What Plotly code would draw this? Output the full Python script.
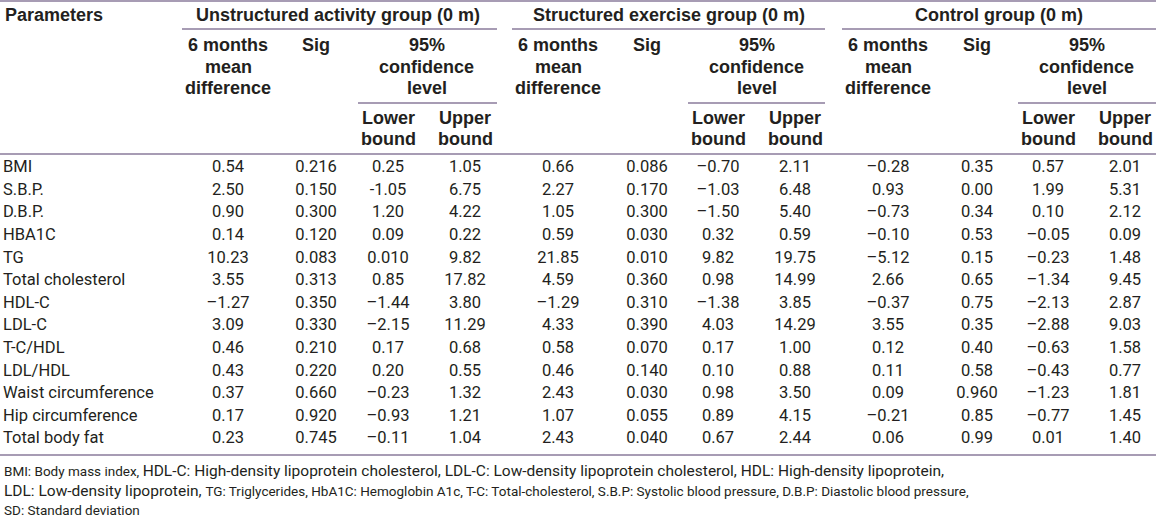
import plotly.graph_objects as go

# ---------------- data ----------------
parameters = ["BMI", "S.B.P.", "D.B.P.", "HBA1C", "TG", "Total cholesterol", "HDL-C",
              "LDL-C", "T-C/HDL", "LDL/HDL", "Waist circumference", "Hip circumference",
              "Total body fat"]

groups = ["Unstructured activity group (0 m)", "Structured exercise group (0 m)", "Control group (0 m)"]

unstruct_mean = ["0.54", "2.50", "0.90", "0.14", "10.23", "3.55", "–1.27", "3.09", "0.46", "0.43", "0.37", "0.17", "0.23"]
unstruct_sig = ["0.216", "0.150", "0.300", "0.120", "0.083", "0.313", "0.350", "0.330", "0.210", "0.220", "0.660", "0.920", "0.745"]
unstruct_low = ["0.25", "-1.05", "1.20", "0.09", "0.010", "0.85", "–1.44", "–2.15", "0.17", "0.20", "–0.23", "–0.93", "–0.11"]
unstruct_up = ["1.05", "6.75", "4.22", "0.22", "9.82", "17.82", "3.80", "11.29", "0.68", "0.55", "1.32", "1.21", "1.04"]

struct_mean = ["0.66", "2.27", "1.05", "0.59", "21.85", "4.59", "–1.29", "4.33", "0.58", "0.46", "2.43", "1.07", "2.43"]
struct_sig = ["0.086", "0.170", "0.300", "0.030", "0.010", "0.360", "0.310", "0.390", "0.070", "0.140", "0.030", "0.055", "0.040"]
struct_low = ["–0.70", "–1.03", "–1.50", "0.32", "9.82", "0.98", "–1.38", "4.03", "0.17", "0.10", "0.98", "0.89", "0.67"]
struct_up = ["2.11", "6.48", "5.40", "0.59", "19.75", "14.99", "3.85", "14.29", "1.00", "0.88", "3.50", "4.15", "2.44"]

control_mean = ["–0.28", "0.93", "–0.73", "–0.10", "–5.12", "2.66", "–0.37", "3.55", "0.12", "0.11", "0.09", "–0.21", "0.06"]
control_sig = ["0.35", "0.00", "0.34", "0.53", "0.15", "0.65", "0.75", "0.35", "0.40", "0.58", "0.960", "0.85", "0.99"]
control_low = ["0.57", "1.99", "0.10", "–0.05", "–0.23", "–1.34", "–2.13", "–2.88", "–0.63", "–0.43", "–1.23", "–0.77", "0.01"]
control_up = ["2.01", "5.31", "2.12", "0.09", "1.48", "9.45", "2.87", "9.03", "1.58", "0.77", "1.81", "1.45", "1.40"]

footer_lines = [
    "<span style='font-size:13.5px'>BMI: Body mass index, </span>HDL-C: High-density lipoprotein cholesterol, LDL-C: Low-density lipoprotein cholesterol, HDL: High-density lipoprotein,",
    "LDL: Low-density lipoprotein, <span style='font-size:13.5px'>TG: Triglycerides, HbA1C: Hemoglobin A1c, T-C: Total-cholesterol, S.B.P: Systolic blood pressure, D.B.P: Diastolic blood pressure,</span>",
    "<span style='font-size:13.5px'>SD: Standard deviation</span>",
]

# ---------------- layout constants ----------------
W, H = 1156, 524
TXT = "#231f20"
LINE = "#8a7b9b"
BODY_FONT = "Roboto"
HEAD_FONT = "Liberation Sans"
ROW0, ROW_STEP = 168, 22.6

col_x = {
    "u": [228, 316, 388, 465],
    "s": [558, 647, 718, 795],
    "c": [888, 977, 1048, 1125],
}
group_center = [338, 669, 999]
group_line = [(182, 497), (512, 825), (842, 1156)]
ci_line = [(358, 497), (688, 825), (1018, 1156)]

fig = go.Figure()

row_y = [ROW0 + i * ROW_STEP for i in range(len(parameters))]

# parameter names
fig.add_trace(go.Scatter(x=[3] * len(parameters), y=row_y, text=parameters, mode="text",
                         textposition="middle right",
                         textfont=dict(family=BODY_FONT, size=16.5, color=TXT),
                         hoverinfo="skip", showlegend=False))

columns = [
    (col_x["u"], [unstruct_mean, unstruct_sig, unstruct_low, unstruct_up]),
    (col_x["s"], [struct_mean, struct_sig, struct_low, struct_up]),
    (col_x["c"], [control_mean, control_sig, control_low, control_up]),
]
for xs, cols in columns:
    for cx, vals in zip(xs, cols):
        fig.add_trace(go.Scatter(x=[cx] * len(vals), y=row_y, text=vals, mode="text",
                                 textposition="middle center",
                                 textfont=dict(family=BODY_FONT, size=16.5, color=TXT),
                                 hoverinfo="skip", showlegend=False))

annotations = []


def head(x, y, text, anchor="center"):
    annotations.append(dict(x=x, y=y, xref="x", yref="y", text="<b>%s</b>" % text, showarrow=False,
                            xanchor=anchor, yanchor="middle",
                            font=dict(family=HEAD_FONT, size=18, color=TXT)))


head(3, 15, "Parameters", "left")
for gc, g in zip(group_center, groups):
    head(gc, 15, g)

for xs in col_x.values():
    mean_x, sig_x, low_x, up_x = xs
    head(mean_x, 45, "6 months")
    head(mean_x, 67, "mean")
    head(mean_x, 88, "difference")
    head(sig_x, 45, "Sig")
    ci_c = (low_x + up_x) / 2
    head(ci_c, 45, "95%")
    head(ci_c, 67, "confidence")
    head(ci_c, 88, "level")
    head(low_x, 118, "Lower")
    head(low_x, 139, "bound")
    head(up_x, 118, "Upper")
    head(up_x, 139, "bound")

for i, t in enumerate(footer_lines):
    annotations.append(dict(x=2, y=471 + i * 19.5, xref="x", yref="y", text=t, showarrow=False,
                            xanchor="left", yanchor="middle",
                            font=dict(family=BODY_FONT, size=15.5, color=TXT)))

shapes = []


def hline(x0, x1, y):
    shapes.append(dict(type="line", xref="x", yref="y", x0=x0, x1=x1, y0=y, y1=y,
                       line=dict(color=LINE, width=1.5)))


hline(0, W, 1)
for a, b in group_line:
    hline(a, b, 29)
for a, b in ci_line:
    hline(a, b, 103)
hline(0, W, 154)
hline(0, W, 455)

fig.update_layout(
    width=W, height=H,
    margin=dict(l=0, r=0, t=0, b=0),
    paper_bgcolor="white", plot_bgcolor="white",
    xaxis=dict(range=[0, W], visible=False, fixedrange=True),
    yaxis=dict(range=[H, 0], visible=False, fixedrange=True),
    annotations=annotations, shapes=shapes,
    showlegend=False,
)

fig.write_html("out.html", config={"displayModeBar": False},
               post_script="document.body.style.margin='0';document.body.style.overflow='hidden';")
